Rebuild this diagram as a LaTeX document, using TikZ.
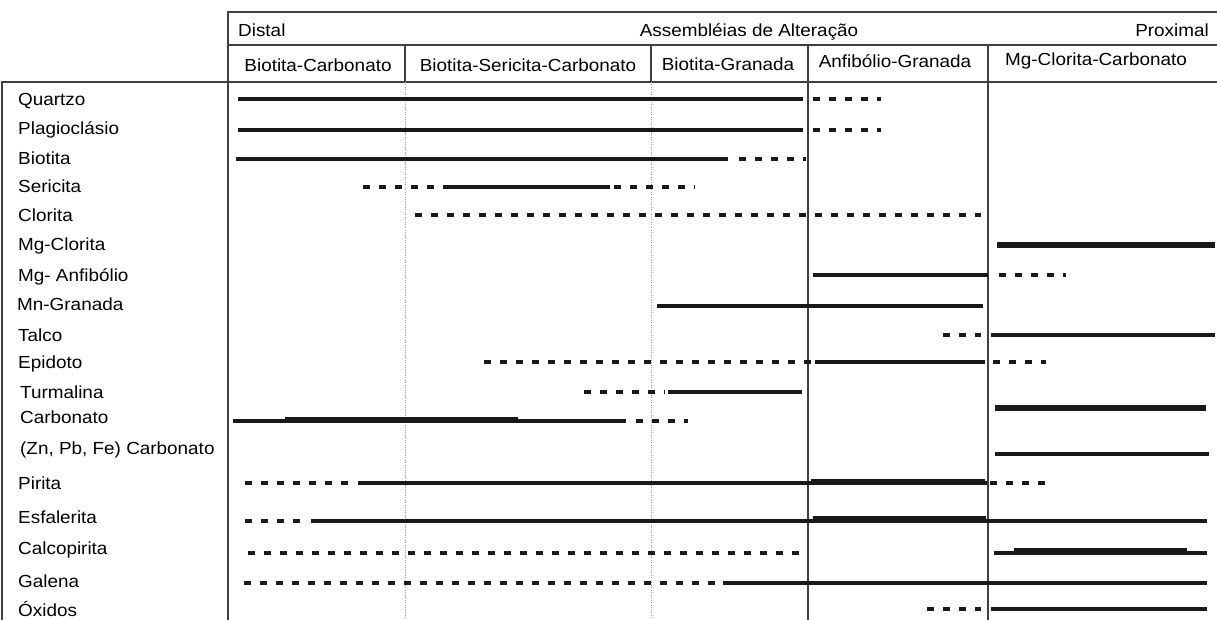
\documentclass[tikz,border=0pt]{standalone}
\usepackage{fontspec}
\setmainfont{Liberation Sans}[FakeStretch=1.08]
\begin{document}
\begin{tikzpicture}[x=1pt,y=-1pt,
  frame/.style={draw=black!75,line width=1.1pt},
  sepdot/.style={draw=black!40,line width=0.9pt,dash pattern=on 1pt off 1.5pt},
  solidbar/.style={draw=black!90,line width=3.2pt},
  thickbar/.style={draw=black!90,line width=6.6pt},
  dashbar/.style={draw=black!90,line width=3.4pt,dash pattern=on 7pt off 9pt},
  txt/.style={inner sep=0pt,font=\fontsize{17.5}{19}\selectfont},
  lbl/.style={txt,anchor=base west},
  hdr/.style={txt,anchor=base}]
\useasboundingbox (0,0) rectangle (1217,620);

% frame
\draw[frame] (228,620) -- (228,12) -- (1217,12);
\draw[frame] (228,45) -- (1217,45);
\draw[frame] (2,620) -- (2,82) -- (1217,82);
\draw[frame] (405,45) -- (405,82);
\draw[frame] (651,45) -- (651,82);
\draw[frame] (808,45) -- (808,620);
\draw[frame] (988,45) -- (988,620);
\draw[sepdot] (405,82) -- (405,620);
\draw[sepdot] (651,82) -- (651,620);

% header texts
\node[lbl] (distal) at (238,37) {Distal};
\node[hdr] (assem) at (749,37) {Assembléias de Alteração};
\node[txt,anchor=base east] (prox) at (1209,37) {Proximal};
\node[hdr] (h1) at (318,72) {Biotita-Carbonato};
\node[hdr] (h2) at (528,72) {Biotita-Sericita-Carbonato};
\node[hdr] (h3) at (728,71) {Biotita-Granada};
\node[hdr] (h4) at (895,68) {Anfibólio-Granada};
\node[hdr] (h5) at (1096,66) {Mg-Clorita-Carbonato};

% mineral labels
\node[lbl] (l1) at (18,106) {Quartzo};
\node[lbl] (l2) at (18,135) {Plagioclásio};
\node[lbl] (l3) at (18,165) {Biotita};
\node[lbl] (l4) at (18,193) {Sericita};
\node[lbl] (l5) at (18,222) {Clorita};
\node[lbl] (l6) at (18,251) {Mg-Clorita};
\node[lbl] (l7) at (18,281) {Mg- Anfibólio};
\node[lbl] (l8) at (17,310) {Mn-Granada};
\node[lbl] (l9) at (18,341) {Talco};
\node[lbl] (l10) at (18,368) {Epidoto};
\node[lbl] (l11) at (20,398) {Turmalina};
\node[lbl] (l12) at (20,423) {Carbonato};
\node[lbl] (l13) at (20,454) {(Zn, Pb, Fe) Carbonato};
\node[lbl] (l14) at (18,489) {Pirita};
\node[lbl] (l15) at (18,523) {Esfalerita};
\node[lbl] (l16) at (18,554) {Calcopirita};
\node[lbl] (l17) at (18,587) {Galena};
\node[lbl] (l18) at (18,616.5) {Óxidos};

% Quartzo
\draw[solidbar] (238,99) -- (803,99);
\draw[dashbar] (813,99) -- (881,99);
% Plagioclasio
\draw[solidbar] (238,130) -- (803,130);
\draw[dashbar] (813,130) -- (881,130);
% Biotita
\draw[solidbar] (236,159) -- (728,159);
\draw[dashbar] (739,159) -- (806,159);
% Sericita
\draw[dashbar] (363,187) -- (437,187);
\draw[solidbar] (443,187) -- (610,187);
\draw[dashbar] (614,187) -- (695,187);
% Clorita
\draw[dashbar] (415,215) -- (981,215);
% Mg-Clorita
\draw[thickbar] (997,245) -- (1215,245);
% Mg-Anfibolio
\draw[solidbar] (813,275) -- (988,275);
\draw[dashbar] (999,275) -- (1066,275);
% Mn-Granada
\draw[solidbar] (657,306) -- (983,306);
% Talco
\draw[dashbar] (943,335) -- (981,335);
\draw[solidbar] (991,335) -- (1215,335);
% Epidoto
\draw[dashbar] (484,362) -- (813,362);
\draw[solidbar] (815,362) -- (985,362);
\draw[dashbar] (993,362) -- (1046,362);
% Turmalina
\draw[dashbar] (584,392) -- (665,392);
\draw[solidbar] (668,392) -- (802,392);
% Carbonato
\draw[solidbar] (233,421) -- (626,421);
\draw[thickbar] (285,420) -- (518,420);
\draw[dashbar] (636,421) -- (688,421);
\draw[thickbar] (995,408) -- (1206,408);
% (Zn, Pb, Fe) Carbonato
\draw[solidbar] (995,454) -- (1209,454);
% Pirita
\draw[dashbar] (245,483) -- (348,483);
\draw[solidbar] (358,483) -- (987,483);
\draw[thickbar] (811,482) -- (985,482);
\draw[dashbar] (990,483) -- (1053,483);
% Esfalerita
\draw[dashbar] (245,521) -- (304,521);
\draw[solidbar] (311,521) -- (1207,521);
\draw[thickbar] (813,519.5) -- (986,519.5);
% Calcopirita
\draw[dashbar] (248,553) -- (804,553);
\draw[solidbar] (994,553) -- (1207,553);
\draw[thickbar] (1014,551.5) -- (1187,551.5);
% Galena
\draw[dashbar] (244,583) -- (719,583);
\draw[solidbar] (723,583) -- (1207,583);
% Oxidos
\draw[dashbar] (927,609) -- (981,609);
\draw[solidbar] (991,609) -- (1207,609);
\end{tikzpicture}
\end{document}
